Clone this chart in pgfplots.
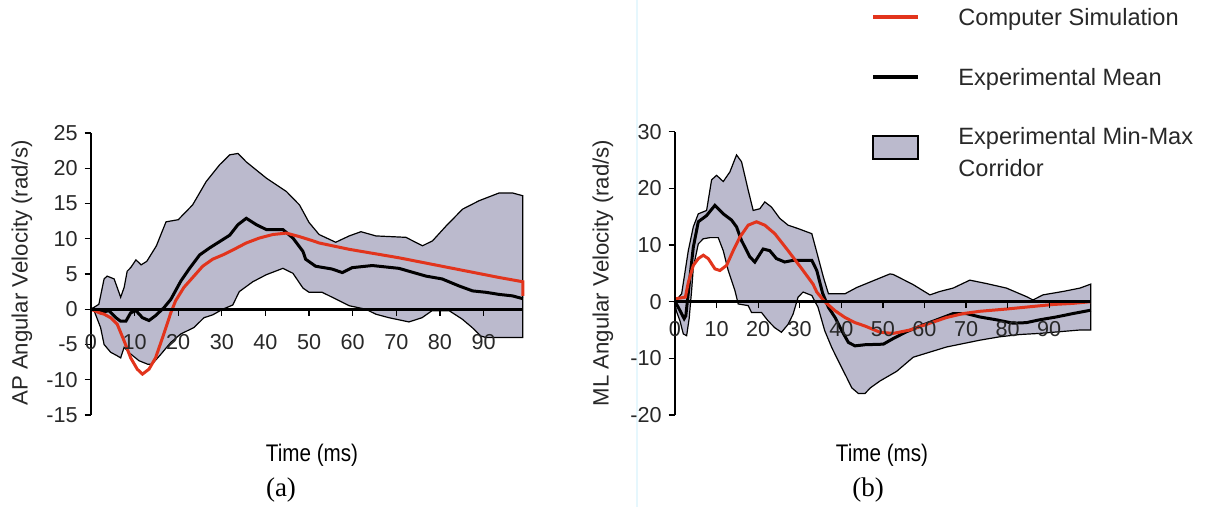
\documentclass[border=0pt]{standalone}
\usepackage{fontspec}
\setmainfont{Liberation Sans}
\newfontfamily\seriffont{Liberation Serif}
\usepackage{graphicx}
\usepackage{pgfplots}
\pgfplotsset{compat=1.18}
\definecolor{corr}{RGB}{187,186,205}
\definecolor{simred}{RGB}{226,52,28}
\definecolor{ticktext}{RGB}{40,40,40}
\pgfplotsset{myax/.style={
  scale only axis, anchor=south west,
  axis x line=middle, axis y line=left,
  x axis line style={-, line width=1.4pt},
  y axis line style={-, line width=0.6pt},
  tick align=outside, major tick length=3.2pt,
  tick style={black, line width=0.6pt},
  xtick={0,10,...,90},
  hide obscured x ticks=false, hide obscured y ticks=false,
  tick label style={font=\fontsize{10.8}{12}\selectfont, text=ticktext},
  /pgf/number format/assume math mode=true,
  axis on top,
  clip=false,
}}
\begin{document}
\begin{tikzpicture}
\useasboundingbox (0,0) rectangle (614pt,253.5pt);
\draw[cyan!10, line width=0.6pt] (318.5pt,0) -- (318.5pt,253.5pt);
% ---------------- (a) ----------------
\begin{axis}[myax, at={(45.5pt,46pt)}, width=215.9pt, height=141pt,
  xmin=0, xmax=99, ymin=-15, ymax=25, ytick={-15,-10,...,25},
  xticklabel style={yshift=-6pt}]
\addplot[fill=corr, draw=black, line width=0.6pt] coordinates {
(0,0) (1.8,0.7) (3,4.3) (3.7,4.7) (5.3,4.3) (6,3.1) (6.8,1.7) (7.6,3.1) (8.3,5.4) (9.1,5.9)
(10.3,7) (11.5,6.3) (12.8,6.8) (15,9) (17.2,12.4) (20,12.7) (23.3,14.8) (26.4,18.1) (29.5,20.5)
(31.8,21.9) (33.7,22.1) (35.6,20.9) (40.2,18.6) (44.8,16.7) (47.8,14.8) (50,12.3) (52.3,10.6)
(56.1,9.5) (59.2,10.4) (61.9,11) (65.3,10.4) (72.2,10.2) (76,9) (78.3,9.7) (81.4,11.8) (85.2,14.2)
(89,15.4) (93.6,16.5) (96.6,16.5) (99,16.1)
(99,-4) (90.5,-4) (89.4,-3.8) (87.4,-2.6) (85.1,-1.4) (82.1,-0.2) (78.2,-0.2) (75.9,-1.2) (72.9,-1.8)
(68.3,-1.2) (65.3,-0.7) (63,0) (59.2,0.5) (55.3,1.7) (53,2.4) (50,2.4) (48.6,3) (46.3,5.1) (44,5.8)
(40.2,4.9) (37.1,3.9) (34,2.5) (32.5,0.6) (30.2,0) (27.9,-0.8) (25.9,-1.2) (23.6,-2.6) (20.6,-3.5)
(18.3,-4.7) (16,-6.4) (14,-7.8) (13,-7.8) (11,-7.3) (9,-6.3) (7.6,-5.4) (6.8,-6.9) (6,-6.6)
(4.5,-6.1) (3,-5) (2.2,-2.6) (0.7,-0.2)
} -- cycle;
\addplot[black, line width=1.5pt] coordinates {
(0,0) (0.7,0) (2.2,-0.5) (4.1,-0.2) (5.7,-1.2) (6.8,-1.7) (8,-1.7) (9.1,-0.5) (10.3,-0.2)
(11.8,-1.2) (13.3,-1.6) (14.8,-0.9) (16.7,0.2) (18.3,1.4) (20.6,4) (22.6,5.8) (24.9,7.7)
(27.2,8.7) (29.5,9.6) (31.8,10.5) (33.7,12) (35.6,12.9) (37.9,12) (40.2,11.3) (44,11.3)
(46.3,10.1) (48.6,8.2) (49.2,7.1) (51.5,6.1) (55.3,5.7) (57.6,5.2) (59.9,5.9) (64.5,6.2)
(70.6,5.8) (76.8,4.7) (80.5,4.3) (84.4,3.3) (87.5,2.6) (90.6,2.4) (93.6,2.1) (96.6,1.9) (99,1.5)
};
\addplot[simred, line width=1.5pt] coordinates {
(0,0) (1.9,-0.5) (3,-0.7) (4.5,-1.2) (6,-2.1) (7.6,-4.5) (9.1,-6.9) (10.6,-8.5) (11.8,-9.2)
(13.3,-8.5) (14.8,-6.9) (16.7,-3.5) (18.3,-0.5) (19.4,1.2) (21.3,3.1) (23.6,4.7) (25.6,6.1)
(27.9,7.1) (30.2,7.7) (32.5,8.4) (35.6,9.4) (38.6,10.1) (41.7,10.6) (44.8,10.8) (47.8,10.3)
(50.9,9.7) (52.3,9.4) (59.2,8.5) (70.6,7.3) (82.1,5.9) (93.6,4.5) (99,3.9) (99,1.9)
};
\end{axis}
% ---------------- (b) ----------------
\begin{axis}[myax, at={(337.5pt,46pt)}, width=207.9pt, height=141.65pt,
  xmin=0, xmax=100, ymin=-20, ymax=30, ytick={-20,-10,...,30},
  xticklabel style={yshift=-3pt}]
\addplot[fill=corr, draw=black, line width=0.6pt] coordinates {
(0,0) (1.6,1.4) (3.2,9) (4.4,13.2) (5.6,15.5) (7.6,16.1) (8.8,21.5) (10,22.3) (11.6,21.2)
(13.2,22.9) (14.8,25.9) (16,24.7) (17.6,19.7) (18.8,16.1) (20.4,16.4) (21.6,17.6) (23.2,16.7)
(25.2,14.7) (27.2,13.5) (29.6,12.9) (32.9,12) (34,9) (35.7,4.3) (36.9,1.4) (40.9,1.4) (43.7,2.5)
(47.7,3.7) (51.7,4.9) (52.5,4.8) (57.3,3) (61.3,1.2) (63.7,1.8) (66.9,2.4) (70.9,3.8) (74.9,3.2)
(79.7,2.4) (84.5,0.9) (86.1,0.3) (88.5,1.2) (93.3,1.8) (97.4,2.4) (100,3.1)
(100,-5) (97.4,-5) (92.5,-5.3) (87.7,-5.6) (82.9,-5.8) (78.1,-6.2) (73.3,-6.8) (69.3,-7.4)
(65.3,-8) (61.3,-8.9) (57.3,-9.8) (53.3,-12.3) (49.3,-14) (47,-15.2) (45.7,-16.2) (44.1,-16.2)
(42.5,-15.2) (41.3,-13.4) (39.3,-10.5) (37.7,-8.1) (36,-5.1) (34.4,-1) (32.9,1.1) (30.8,1.7)
(29.6,0.8) (28.4,-2.2) (27.2,-4) (25.6,-5.4) (24,-4.6) (22.4,-3.4) (20.8,-1.9) (18.4,-1.9)
(17.6,-0.7) (15.2,-0.4) (14.4,2) (12.8,5.5) (11.6,9) (10.4,11.3) (8.4,11.3) (6.8,11.1) (5.6,10.2)
(4.4,6) (4,2) (3.4,-3) (2.8,-6) (2,-5.7) (1.2,-3.4) (0.3,-1.6)
} -- cycle;
\addplot[black, line width=1.5pt] coordinates {
(0,0) (0.8,-1) (2.2,-3) (2.6,-2.5) (3.6,4.3) (4.4,9.6) (5.6,14.1) (7.6,15.2) (9.6,17) (11.6,15.5)
(13.6,14.4) (14.8,13.2) (16,10.8) (18,7.9) (19.2,7) (21.2,9.3) (22.8,9) (24.4,7.6) (26.4,7)
(28.4,7.3) (32.9,7.3) (34.1,5.5) (35.5,1.5) (36.9,-1) (38.5,-2.8) (40.1,-5.1) (41.7,-7.2)
(43.3,-7.8) (45.7,-7.6) (50.1,-7.5) (52.5,-6.5) (55.7,-5.3) (59.7,-4.1) (63.7,-3) (66.9,-2.1)
(70.1,-2.1) (73.3,-2.7) (77.3,-3.2) (81.3,-3.8) (84.5,-3.7) (87.7,-3.2) (91.7,-2.7) (95.7,-2.1) (100,-1.5)
};
\addplot[simred, line width=1.5pt] coordinates {
(0,0.5) (2.5,0.8) (3.2,3.4) (4.4,6.4) (5.6,7.6) (6.8,8.2) (8,7.6) (9.6,5.8) (10.8,5.5) (12.4,6.4)
(14,9) (15.6,11.4) (17.6,13.5) (19.6,14.1) (21.6,13.5) (24,12) (27.2,9) (30.5,5.8) (33.2,3.1)
(34.1,1.7) (36,0) (38.5,-1.6) (40.9,-2.8) (43.3,-3.7) (45.7,-4.3) (49.3,-5.4) (52.5,-5.6)
(56.5,-5) (61.3,-3.8) (65.3,-2.8) (69.3,-2.1) (73.3,-1.7) (79.7,-1.3) (85.3,-0.9) (90.9,-0.5)
(95.7,-0.3) (100,0)
};
\end{axis}
% ---------------- labels ----------------
\node[rotate=90, font=\fontsize{11.1}{13}\selectfont, text=ticktext] at (11pt,117pt) {AP Angular Velocity (rad/s)};
\node[rotate=90, font=\fontsize{11.1}{13}\selectfont, text=ticktext] at (301.5pt,117pt) {ML Angular Velocity (rad/s)};
\node[font=\fontsize{12}{14}\selectfont] at (156pt,26pt) {\scalebox{0.86}[1]{Time (ms)}};
\node[font=\fontsize{12}{14}\selectfont] at (441pt,26pt) {\scalebox{0.86}[1]{Time (ms)}};
\node[font=\seriffont\fontsize{13.5}{15}\selectfont] at (140.5pt,8.5pt) {(a)};
\node[font=\seriffont\fontsize{13.5}{15}\selectfont] at (434pt,8.5pt) {(b)};
% ---------------- legend ----------------
\draw[simred, line width=2.2pt] (436.5pt,245pt) -- (459pt,245pt);
\node[anchor=west, inner sep=0pt, font=\fontsize{11.8}{16}\selectfont, text=ticktext] at (479pt,244pt) {Computer Simulation};
\draw[black, line width=2.2pt] (436.5pt,215pt) -- (459pt,215pt);
\node[anchor=west, inner sep=0pt, font=\fontsize{11.8}{16}\selectfont, text=ticktext] at (479pt,214pt) {Experimental Mean};
\draw[fill=corr, draw=black, line width=0.8pt] (436.5pt,174pt) rectangle (459pt,185.5pt);
\node[anchor=west, inner sep=0pt, align=left, font=\fontsize{11.8}{16}\selectfont, text=ticktext] at (479pt,177.5pt) {Experimental Min-Max\\Corridor};
\end{tikzpicture}
\end{document}
